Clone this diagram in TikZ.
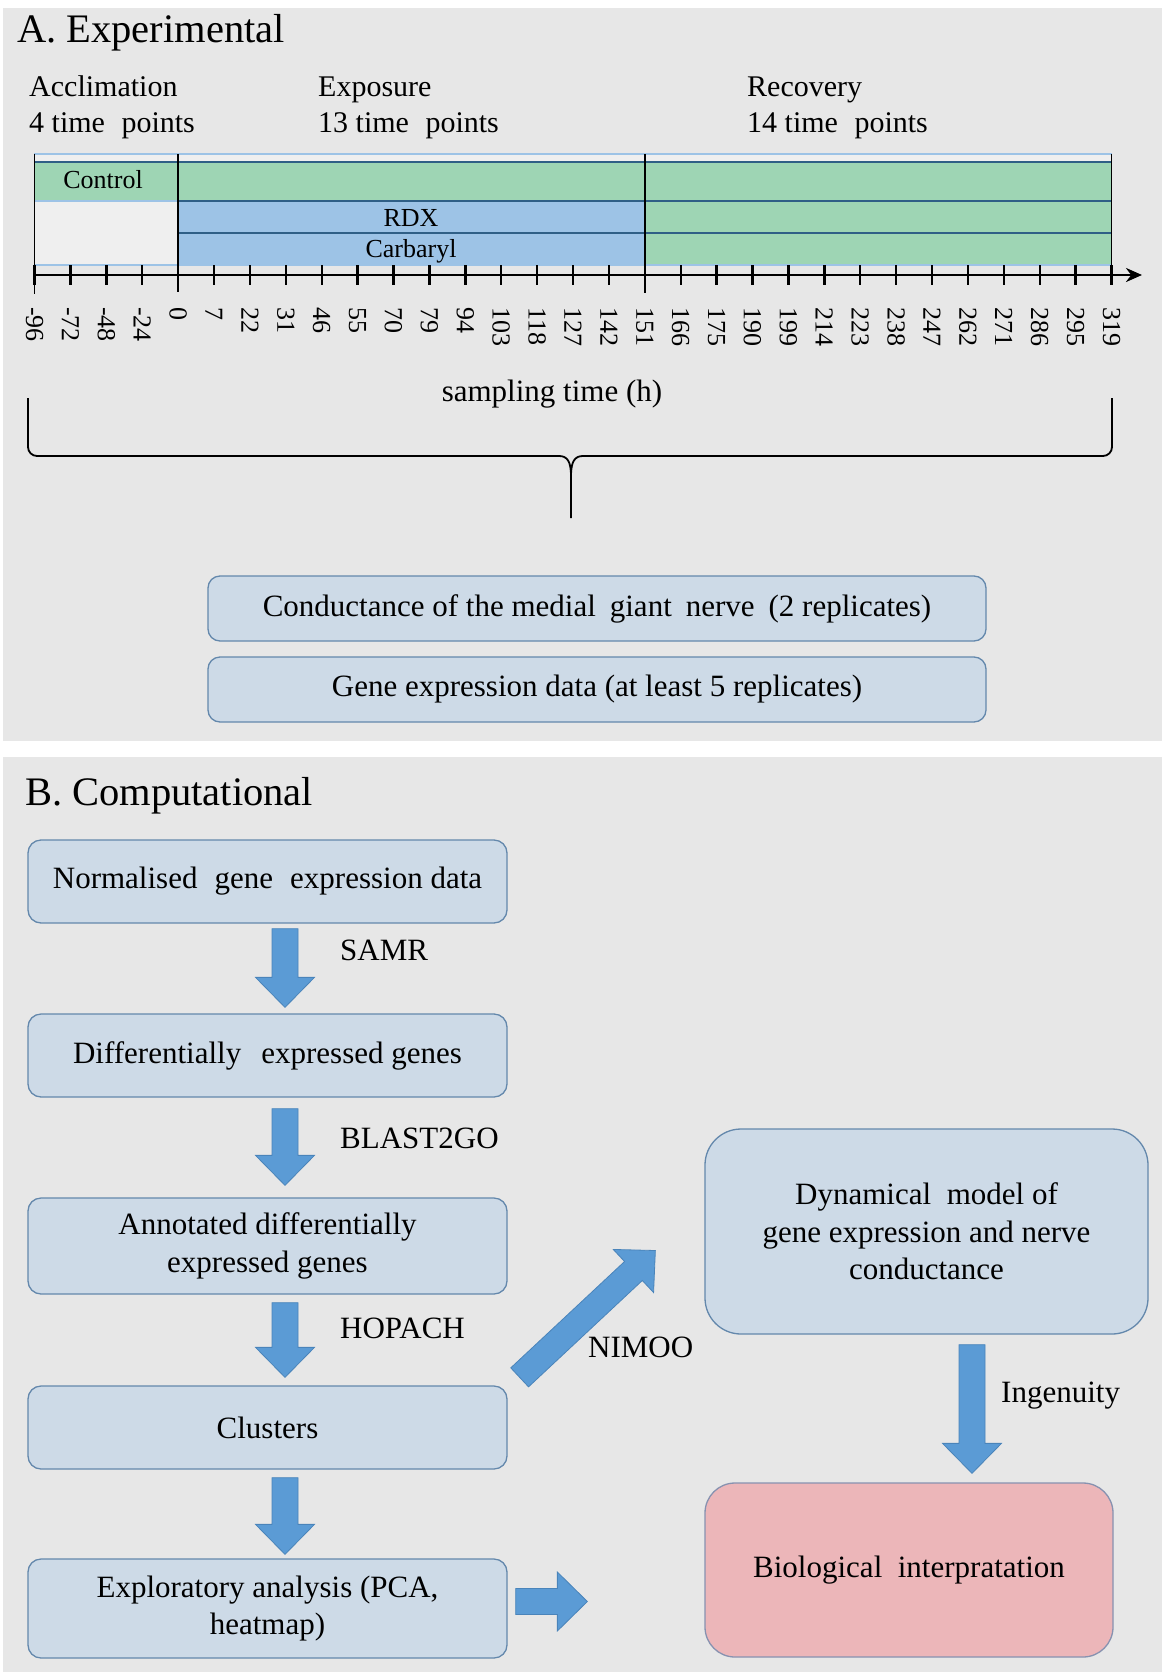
\documentclass[tikz,border=0pt]{standalone}
\usepackage{fontspec}
\setmainfont{Liberation Serif}
\usetikzlibrary{calc,arrows.meta}

\definecolor{panelgray}{HTML}{E7E7E7}
\definecolor{boxfill}{HTML}{CDDAE7}
\definecolor{boxline}{HTML}{6488AC}
\definecolor{arrowfill}{HTML}{5B9BD5}
\definecolor{arrowline}{HTML}{4A84BA}
\definecolor{greenband}{HTML}{9ED5B4}
\definecolor{blueband}{HTML}{9DC3E6}
\definecolor{sepline}{HTML}{2F5F86}
\definecolor{pinkfill}{HTML}{ECB6B9}
\definecolor{pinkline}{HTML}{8792B0}
\definecolor{framefill}{HTML}{EFEFEF}

\newcommand\fsz[2]{\fontsize{#1pt}{#2pt}\selectfont}

% block arrow from #1 (tail centre) to #2 (tip)
\newcommand\fatarrow[2]{%
  \coordinate (fa-h) at ($(#2)!30pt!(#1)$);
  \draw[blockarrow] ($(#1)!13pt!90:(#2)$) -- ($(fa-h)!13pt!90:(#2)$)
    -- ($(fa-h)!29.5pt!90:(#2)$) -- (#2) -- ($(fa-h)!29.5pt!-90:(#2)$)
    -- ($(fa-h)!13pt!-90:(#2)$) -- ($(#1)!13pt!-90:(#2)$) -- cycle;}

\tikzset{
  title/.style={anchor=base west, inner sep=0pt, font=\fsz{40.5}{48}},
  phase/.style={anchor=base west, inner sep=0pt, font=\fsz{30}{36}},
  bandtext/.style={anchor=base, inner sep=0pt, font=\fsz{26}{31}},
  ticklabel/.style={rotate=-90, anchor=west, inner sep=0pt, font=\fsz{26}{31}},
  tickmark/.style={line width=2.4pt},
  procbox/.style={draw=boxline, fill=boxfill, line width=1.3pt, rounded corners=13pt,
    minimum width=479pt, minimum height=83pt, align=center, inner sep=0pt,
    font=\fsz{31}{37.5}},
  databox/.style={procbox, minimum width=778pt, minimum height=65pt, rounded corners=12pt},
  steplabel/.style={anchor=base west, inner sep=0pt, font=\fsz{31}{37.5}},
  blockarrow/.style={fill=arrowfill, draw=arrowline, line width=0.8pt},
}

\begin{document}
\begin{tikzpicture}[x=1pt,y=-1pt]
\useasboundingbox (0,0) rectangle (1165,1675);
\fill[white] (0,0) rectangle (1165,1675);
\fill[panelgray] (3,8) rectangle (1162,741);
\fill[panelgray] (3,757) rectangle (1162,1672);

% ---------------- A. Experimental ----------------
\node[title] (titleA) at (17,43) {A. Experimental};

\node[phase] (acc1) at (29,97) {Acclimation};
\node[phase] (acc2) at (29,132) {4 time\hspace{0.3em} points};
\node[phase] (exp1) at (318,97) {Exposure};
\node[phase] (exp2) at (318,132) {13 time\hspace{0.3em} points};
\node[phase] (rec1) at (747,97) {Recovery};
\node[phase] (rec2) at (747,132) {14 time\hspace{0.3em} points};

% treatment bands
\fill[framefill] (34.5,154) rectangle (1111.5,265);
\fill[greenband] (34.5,162) rectangle (1111.5,201);
\fill[blueband] (178.1,201) rectangle (644.8,265);
\fill[greenband] (644.8,201) rectangle (1111.5,265);
\draw[blueband, line width=1.2pt] (34.5,154) rectangle (1111.5,265);
\draw[blueband, line width=1.2pt] (34.5,201) -- (178.1,201);
\draw[sepline, line width=1.3pt] (34.5,162) -- (1111.5,162);
\draw[sepline, line width=2.6pt] (178.1,201) -- (1111.5,201)
                                 (178.1,233) -- (1111.5,233);

\node[bandtext] (control) at (103,188) {Control};
\node[bandtext] (rdx) at (411,226) {RDX};
\node[bandtext] (carb) at (411,257) {Carbaryl};

% phase boundaries
\draw[line width=1.6pt] (34.5,154) -- (34.5,294);
\draw[line width=1.6pt] (178.1,154) -- (178.1,292);
\draw[line width=1.6pt] (644.8,154) -- (644.8,293);
\draw[line width=1.6pt] (1111.5,154) -- (1111.5,285);

% time axis
\draw[line width=2.8pt, -{Stealth[length=16pt,width=14pt]}] (34.5,275) -- (1142,275);
\foreach \i in {0,...,30}
  \draw[tickmark] ({34.5+35.9*\i},265) -- ({34.5+35.9*\i},285);
\foreach \lab [count=\i from 0] in {-96,-72,-48,-24,0,7,22,31,46,55,70,79,94,103,118,127,142,151,166,175,190,199,214,223,238,247,262,271,286,295,319}
  \node[ticklabel] (tl\i) at ({34.5+35.9*\i},307) {\lab};

\node[anchor=base, inner sep=0pt, font=\fsz{31}{37.5}] (axlabel) at (552,401) {sampling time (h)};

% brace gathering the sampling times
\draw[line width=1.8pt, rounded corners=9pt] (28,398) -- (28,456) -- (559,456);
\draw[line width=1.8pt] (559,456) .. controls (567,456) and (571,461) .. (571,476) -- (571,518);
\draw[line width=1.8pt, rounded corners=9pt] (1112,398) -- (1112,456) -- (583,456);
\draw[line width=1.8pt] (583,456) .. controls (575,456) and (571,461) .. (571,476);

\node[databox] (cond) at (597,608.5) {Conductance of the medial\hspace{0.2em} giant\hspace{0.2em} nerve\hspace{0.2em} (2 replicates)};
\node[databox] (gene) at (597,689.5) {Gene expression data (at least 5 replicates)};

% ---------------- B. Computational ----------------
\node[title] (titleB) at (25,805) {B. Computational};

\node[procbox] (norm) at (267.5,881.5) {Normalised\hspace{0.3em} gene\hspace{0.3em} expression data};
\node[procbox] (diff) at (267.5,1055.5) {Differentially\hspace{0.4em} expressed genes};
\node[procbox, minimum height=96pt] (annot) at (267.5,1246) {Annotated differentially\\expressed genes};
\node[procbox] (clus) at (267.5,1427.5) {Clusters};
\node[procbox, minimum height=99pt] (expl) at (267.5,1608.5) {Exploratory analysis (PCA,\\heatmap)};

\node[procbox, minimum width=443pt, minimum height=205pt, rounded corners=36pt] (dyn)
  at (926.5,1231.5) {Dynamical\hspace{0.25em} model of\\gene expression and nerve\\conductance};
\node[procbox, fill=pinkfill, draw=pinkline, minimum width=408pt, minimum height=174pt,
  rounded corners=30pt] (bio) at (909,1570) {Biological\hspace{0.25em} interpratation};

% arrow end points
\coordinate (a1s) at ($(norm.south)+(17.5,5)$);
\coordinate (a1e) at ($(diff.north)+(17.5,-6)$);
\coordinate (a2s) at ($(diff.south)+(17.5,11)$);
\coordinate (a2e) at ($(annot.north)+(17.5,-12)$);
\coordinate (a3s) at ($(annot.south)+(17.5,8)$);
\coordinate (a3e) at ($(clus.north)+(17.5,-8)$);
\coordinate (a4s) at ($(clus.south)+(17.5,8)$);
\coordinate (a4e) at ($(expl.north)+(17.5,-4)$);
\coordinate (a5s) at ($(clus.north east)+(12,-8)$);
\coordinate (a5e) at ($(dyn.west)+(-49,19)$);
\coordinate (a6s) at ($(dyn.south)+(45.5,10)$);
\coordinate (a6e) at ($(bio.north)+(63,-9)$);
\coordinate (a7s) at ($(expl.east)+(8,-7)$);
\coordinate (a7e) at ($(bio.west)+(-117,31.5)$);

\fatarrow{a1s}{a1e}
\fatarrow{a2s}{a2e}
\fatarrow{a3s}{a3e}
\fatarrow{a4s}{a4e}
\fatarrow{a5s}{a5e}
\fatarrow{a6s}{a6e}
\fatarrow{a7s}{a7e}

\node[steplabel] (samr) at (340,960) {SAMR};
\node[steplabel] (blast) at (340,1148) {BLAST2GO};
\node[steplabel] (hopach) at (340,1338) {HOPACH};
\node[steplabel] (nimoo) at (588,1357) {NIMOO};
\node[steplabel] (ingen) at (1001,1402) {Ingenuity};
\end{tikzpicture}
\end{document}
